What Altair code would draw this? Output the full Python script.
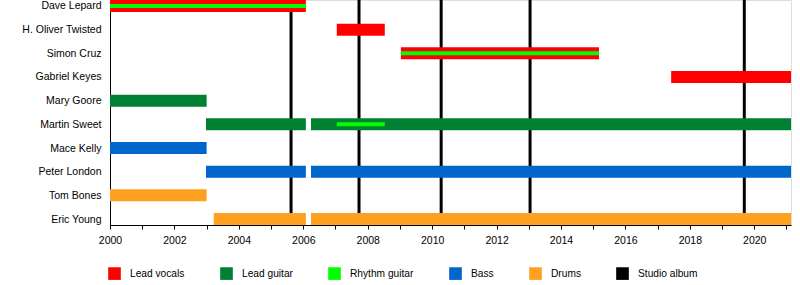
import altair as alt
import pandas as pd

members = ["Dave Lepard", "H. Oliver Twisted", "Simon Cruz", "Gabriel Keyes",
           "Mary Goore", "Martin Sweet", "Mace Kelly", "Peter London",
           "Tom Bones", "Eric Young"]

roles = ["Lead vocals", "Lead guitar", "Rhythm guitar", "Bass", "Drums", "Studio album"]
role_colors = ["#FF0000", "#008033", "#00FF00", "#0066CC", "#FFA020", "#000000"]

END = 2021.14

# main (full width) bars
bar_member = ["Dave Lepard", "H. Oliver Twisted", "Simon Cruz", "Gabriel Keyes",
              "Mary Goore", "Martin Sweet", "Martin Sweet",
              "Mace Kelly", "Peter London", "Peter London",
              "Tom Bones", "Eric Young", "Eric Young"]
bar_role = ["Lead vocals", "Lead vocals", "Lead vocals", "Lead vocals",
            "Lead guitar", "Lead guitar", "Lead guitar",
            "Bass", "Bass", "Bass",
            "Drums", "Drums", "Drums"]
bar_start = [2000.0, 2007.04, 2009.03, 2017.42,
             2000.0, 2002.98, 2006.24,
             2000.0, 2002.98, 2006.24,
             2000.0, 2003.22, 2006.24]
bar_end = [2006.08, 2008.53, 2015.18, END,
           2003.0, 2006.08, END,
           2003.0, 2006.08, END,
           2003.0, 2006.08, END]

# secondary (thin) bars
thin_member = ["Dave Lepard", "Simon Cruz", "Martin Sweet"]
thin_role = ["Rhythm guitar", "Rhythm guitar", "Rhythm guitar"]
thin_start = [2000.0, 2009.03, 2007.04]
thin_end = [2006.08, 2015.18, 2008.53]

# studio albums
album_year = [2005.62, 2007.73, 2010.28, 2013.04, 2019.69]

year_ticks = list(range(2000, 2022))

bars = pd.DataFrame({"member": bar_member, "role": bar_role,
                     "start": bar_start, "end": bar_end})
thin = pd.DataFrame({"member": thin_member, "role": thin_role,
                     "start": thin_start, "end": thin_end})
albums = pd.DataFrame({"year": album_year, "role": ["Studio album"] * len(album_year)})

FONT = "Liberation Sans"

x_scale = alt.Scale(domain=[2000, END], nice=False, zero=False)
y_scale = alt.Scale(domain=members, type="point", padding=0.2535)
color_scale = alt.Scale(domain=roles, range=role_colors)

color_legend = alt.Legend(
    title=None, orient="none", direction="horizontal", columns=6,
    legendX=-2, legendY=267, padding=0,
    symbolType="square", symbolSize=160, symbolStrokeWidth=0,
    symbolOpacity=1,
    labelFont=FONT, labelFontSize=10.2, labelColor="#000000",
    labelOffset=9, columnPadding=35, gridAlign="each",
)

x_axis = alt.Axis(title=None, values=year_ticks, format="d",
                  labelExpr="datum.value % 2 == 0 ? datum.label : ''",
                  grid=False, tickSize=4, tickColor="#000000",
                  domainColor="#000000", labelFont=FONT, labelFontSize=10.5,
                  labelColor="#000000", labelPadding=6, labelFlush=False)
y_axis = alt.Axis(title=None, ticks=False, grid=False, domainColor="#000000",
                  labelFont=FONT, labelFontSize=10.5, labelColor="#000000",
                  labelPadding=9)

album_layer = alt.Chart(albums).mark_rule(strokeWidth=3).encode(
    x=alt.X("year:Q", scale=x_scale, axis=x_axis),
    color=alt.Color("role:N", scale=color_scale, legend=color_legend),
)

bar_layer = alt.Chart(bars).mark_bar(height=12).encode(
    x=alt.X("start:Q", scale=x_scale, axis=x_axis),
    x2="end:Q",
    y=alt.Y("member:N", scale=y_scale, axis=y_axis, sort=members),
    color=alt.Color("role:N", scale=color_scale, legend=color_legend),
)

thin_layer = alt.Chart(thin).mark_bar(height=4).encode(
    x=alt.X("start:Q", scale=x_scale, axis=x_axis),
    x2="end:Q",
    y=alt.Y("member:N", scale=y_scale, axis=y_axis, sort=members),
    color=alt.Color("role:N", scale=color_scale, legend=color_legend),
)

chart = alt.layer(album_layer, bar_layer, thin_layer).properties(
    width=681, height=225,
    autosize=alt.AutoSizeParams(type="none"),
    padding={"left": 110, "top": 0, "right": 9, "bottom": 60},
).configure_view(stroke=None).configure(background="white")

chart.save("out.html", embed_options={"renderer": "svg", "actions": False})
